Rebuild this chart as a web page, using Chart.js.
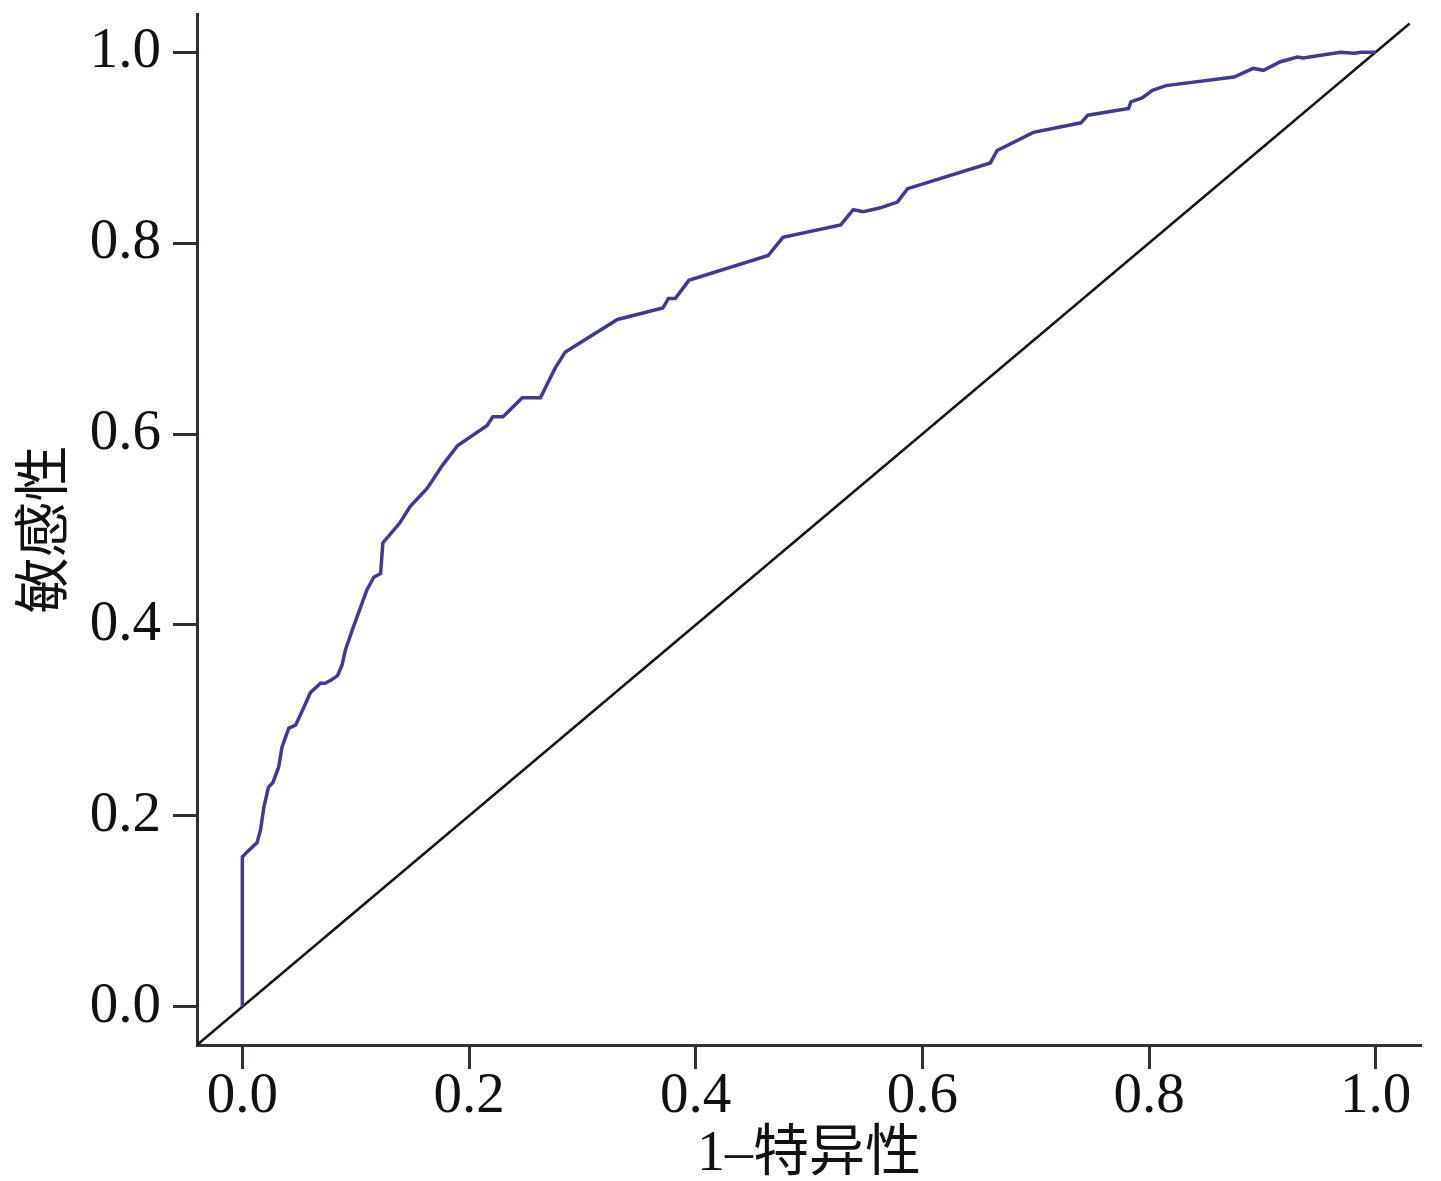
<!DOCTYPE html>
<html>
<head>
<meta charset="utf-8">
<script src="https://cdn.jsdelivr.net/npm/chart.js@4.4.1/dist/chart.umd.min.js"></script>
<style>
  html, body { margin: 0; padding: 0; background: #fff; }
  #wrap { width: 1441px; height: 1181px; }
</style>
</head>
<body>
<div id="wrap"><canvas id="roc"></canvas></div>
<script>
// ROC curve: 1 - specificity (x) vs sensitivity (y)
const fpr = [0, 0, 0.004, 0.013, 0.016, 0.019, 0.023, 0.027, 0.032, 0.035, 0.041, 0.047, 0.054, 0.060,
  0.069, 0.073, 0.078, 0.084, 0.088, 0.091, 0.098, 0.110, 0.116, 0.122, 0.124, 0.139, 0.148, 0.163,
  0.177, 0.190, 0.216, 0.221, 0.230, 0.247, 0.263, 0.276, 0.285, 0.331, 0.371, 0.376, 0.382, 0.394,
  0.464, 0.477, 0.528, 0.539, 0.548, 0.563, 0.578, 0.587, 0.660, 0.666, 0.698, 0.740, 0.746, 0.782,
  0.784, 0.794, 0.803, 0.815, 0.875, 0.892, 0.901, 0.916, 0.931, 0.936, 0.969, 0.981, 0.987, 1.0];
const tpr = [0, 0.157, 0.162, 0.172, 0.185, 0.209, 0.230, 0.235, 0.251, 0.272, 0.292, 0.295, 0.313, 0.329,
  0.339, 0.339, 0.342, 0.347, 0.358, 0.374, 0.398, 0.437, 0.450, 0.454, 0.486, 0.507, 0.524, 0.543,
  0.568, 0.588, 0.609, 0.618, 0.618, 0.638, 0.638, 0.669, 0.686, 0.720, 0.732, 0.742, 0.742, 0.761,
  0.787, 0.806, 0.819, 0.835, 0.833, 0.837, 0.843, 0.857, 0.884, 0.897, 0.916, 0.926, 0.934, 0.941,
  0.948, 0.952, 0.960, 0.965, 0.974, 0.983, 0.981, 0.990, 0.995, 0.994, 1.0, 0.999, 1.0, 1.0];

// reference diagonal
const diagX = [-0.04, 1.03];
const diagY = [-0.04, 1.03];

const tickValues = [0, 0.2, 0.4, 0.6, 0.8, 1.0];
const xTitle = '1–特异性';
const yTitle = '敏感性';

const axisColor = '#332f2c';
const fontFamily = "'Liberation Serif', 'Noto Sans CJK SC', serif";

const toPoints = (xs, ys) => xs.map((x, i) => ({ x: x, y: ys[i] }));

function axis(title, isX) {
  return {
    type: 'linear',
    min: -0.04,
    max: 1.04,
    afterBuildTicks: s => { s.ticks = tickValues.map(v => ({ value: v })); },
    afterFit: s => {
      if (isX) s.height = 136; else s.width = 197;
      // no extra room for overhanging end labels
      s.paddingTop = 0; s.paddingBottom = 0;
      s.paddingLeft = 0; s.paddingRight = 0;
    },
    border: { display: true, color: axisColor, width: 3 },
    grid: {
      display: true,
      drawOnChartArea: false,
      drawTicks: true,
      tickLength: 24,
      tickWidth: 3,
      tickColor: axisColor
    },
    ticks: {
      color: '#111',
      padding: isX ? -6 : 12,
      font: { family: fontFamily, size: 57 },
      callback: v => Number(v).toFixed(1)
    },
    title: {
      display: true,
      text: title,
      color: '#111',
      padding: isX ? { top: 0, bottom: -8 } : { top: 14, bottom: 0 },
      font: { family: fontFamily, size: 56 }
    }
  };
}

const ctx = document.getElementById('roc').getContext('2d');
new Chart(ctx, {
  type: 'scatter',
  data: {
    datasets: [
      {
        data: toPoints(fpr, tpr),
        showLine: true,
        borderColor: '#3f3b92',
        borderWidth: 3.5,
        pointRadius: 0,
        tension: 0
      },
      {
        data: toPoints(diagX, diagY),
        showLine: true,
        borderColor: '#141414',
        borderWidth: 2.5,
        pointRadius: 0
      }
    ]
  },
  options: {
    responsive: true,
    maintainAspectRatio: false,
    animation: false,
    layout: { padding: { left: 0, right: 20, top: 14, bottom: 0 } },
    plugins: {
      legend: { display: false },
      tooltip: { enabled: false }
    },
    scales: {
      x: axis(xTitle, true),
      y: axis(yTitle, false)
    }
  }
});
</script>
</body>
</html>
